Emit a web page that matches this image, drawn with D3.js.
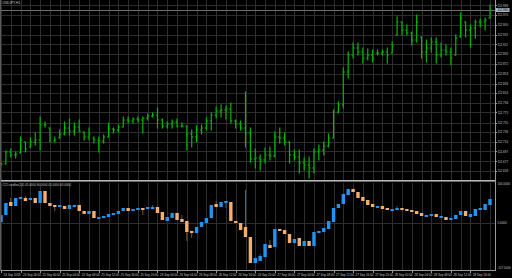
<!DOCTYPE html>
<html>
<head>
<meta charset="utf-8">
<script src="https://cdn.jsdelivr.net/npm/d3@7"></script>
<style>
  html, body { margin: 0; padding: 0; background: #000; }
  svg { display: block; }
  text { font-family: "Liberation Sans", "DejaVu Sans", sans-serif; }
</style>
</head>
<body>
<div id="chart"></div>
<script>
// Price bars (H1)
const barOpen = [112.672,112.672,112.696,112.690,112.694,112.716,112.706,112.716,112.720,112.750,112.744,112.718,112.724,112.732,112.744,112.738,112.746,112.736,112.726,112.724,112.720,112.718,112.726,112.742,112.740,112.746,112.760,112.758,112.762,112.760,112.764,112.768,112.770,112.760,112.748,112.752,112.756,112.748,112.748,112.732,112.726,112.740,112.744,112.758,112.770,112.778,112.780,112.782,112.758,112.752,112.744,112.734,112.682,112.684,112.680,112.690,112.688,112.726,112.724,112.716,112.690,112.686,112.674,112.670,112.664,112.696,112.700,112.708,112.724,112.776,112.790,112.856,112.890,112.904,112.896,112.884,112.890,112.894,112.894,112.896,112.894,112.930,112.956,112.940,112.934,112.920,112.926,112.896,112.904,112.916,112.890,112.900,112.896,112.890,112.926,112.956,112.940,112.944,112.956,112.956,112.964];
const barHigh = [112.674,112.698,112.702,112.696,112.726,112.716,112.724,112.734,112.766,112.756,112.744,112.726,112.740,112.756,112.762,112.754,112.760,112.736,112.744,112.726,112.726,112.730,112.754,112.744,112.750,112.766,112.766,112.764,112.766,112.766,112.772,112.774,112.784,112.762,112.756,112.760,112.762,112.754,112.748,112.740,112.748,112.750,112.764,112.774,112.786,112.790,112.788,112.794,112.760,112.758,112.816,112.744,112.702,112.690,112.704,112.706,112.736,112.744,112.734,112.716,112.700,112.700,112.684,112.686,112.702,112.710,112.716,112.732,112.780,112.796,112.864,112.896,112.914,112.914,112.904,112.902,112.900,112.900,112.900,112.904,112.916,112.966,112.956,112.950,112.936,112.970,112.926,112.920,112.924,112.924,112.914,112.910,112.904,112.930,112.974,112.956,112.950,112.960,112.962,112.964,112.990];
const barLow = [112.670,112.672,112.686,112.684,112.694,112.696,112.706,112.710,112.700,112.746,112.716,112.716,112.724,112.730,112.730,112.730,112.736,112.720,112.720,112.714,112.696,112.714,112.726,112.734,112.736,112.746,112.754,112.754,112.756,112.734,112.760,112.766,112.744,112.744,112.744,112.744,112.746,112.746,112.700,112.706,112.716,112.732,112.740,112.740,112.764,112.766,112.762,112.754,112.744,112.740,112.706,112.676,112.664,112.660,112.674,112.680,112.686,112.714,112.710,112.674,112.680,112.654,112.660,112.644,112.654,112.680,112.690,112.706,112.724,112.774,112.784,112.844,112.884,112.890,112.874,112.880,112.876,112.890,112.890,112.874,112.894,112.930,112.930,112.930,112.910,112.916,112.884,112.876,112.896,112.874,112.886,112.890,112.870,112.890,112.926,112.926,112.906,112.924,112.946,112.940,112.964];
const barClose = [112.672,112.696,112.690,112.692,112.720,112.702,112.716,112.720,112.750,112.750,112.718,112.720,112.732,112.744,112.738,112.746,112.738,112.726,112.732,112.720,112.718,112.726,112.742,112.740,112.746,112.760,112.758,112.762,112.760,112.764,112.768,112.770,112.760,112.748,112.752,112.756,112.748,112.748,112.732,112.726,112.740,112.744,112.758,112.770,112.778,112.780,112.782,112.758,112.752,112.744,112.734,112.682,112.684,112.680,112.690,112.688,112.726,112.724,112.716,112.690,112.686,112.674,112.670,112.664,112.696,112.700,112.708,112.724,112.776,112.790,112.856,112.890,112.904,112.896,112.884,112.890,112.884,112.894,112.896,112.890,112.908,112.956,112.940,112.934,112.920,112.956,112.896,112.904,112.916,112.890,112.900,112.896,112.884,112.924,112.964,112.940,112.944,112.956,112.956,112.960,112.980];

// Oscillator candles in the lower window
const indOpen = [2.5,20,52.5,42.5,60,62.5,57.5,62.5,50,80,50,45,40,42.5,35,40,45,30,22.5,30,10,12.5,15,20,22.5,30,37.5,30,32.5,37.5,35,35,40,27.5,5,12.5,25,10,5,-20,-25,-10,0,12.5,47.5,40,50,52.5,5,0,-10,-35,-100,-95,-85,-55,-60,-15,-17.5,-27.5,-50,-37.5,-57.5,-45,-57.5,-25,-22.5,-15,2.5,37.5,47.5,70,85,77.5,65,57.5,47.5,37.5,42.5,37.5,30,32.5,37.5,35,32.5,30,25,15,17.5,22.5,12.5,15,7.5,10,20,30,15,17.5,32.5,32.5,45];
const indClose = [20,50,42.5,62.5,65,55,62.5,50,80,50,42.5,40,45,35,45,45,30,22.5,30,12.5,15,17.5,22.5,25,30,37.5,30,35,37.5,32.5,40,40,25,7.5,15,25,7.5,2.5,-22.5,-25,-10,2.5,12.5,45,40,52.5,55,5,0,-17.5,-35,-100,-87.5,-82.5,-52.5,-62.5,-15,-20,-27.5,-50,-40,-57.5,-45,-57.5,-22.5,-20,-12.5,5,37.5,47.5,72.5,85,77.5,62.5,55,45,40,42.5,35,32.5,35,37.5,32.5,30,27.5,22.5,17.5,20,22.5,15,17.5,7.5,12.5,20,30,17.5,22.5,35,37.5,47.5,60];
const indHigh = [20,50,62.5,62.5,65,67.5,62.5,62.5,80,80,50,45,45,42.5,45,45,45,30,30,30,15,17.5,22.5,25,30,37.5,37.5,35,37.5,37.5,40,45,40,27.5,15,25,25,20,5,-20,-10,2.5,12.5,45,55,52.5,55,52.5,5,0,82.5,-35,-87.5,-77.5,-52.5,-42.5,-15,-15,-17.5,-27.5,-40,-37.5,-45,-45,-22.5,-20,-12.5,5,37.5,47.5,72.5,85,85,77.5,65,57.5,47.5,42.5,42.5,37.5,35,42.5,37.5,35,32.5,30,25,20,22.5,22.5,17.5,15,12.5,20,30,30,22.5,35,37.5,47.5,60];
const indLow = [2.5,20,42.5,42.5,60,55,57.5,50,50,50,42.5,30,40,35,35,40,30,22.5,22.5,12.5,10,12.5,15,20,22.5,30,30,30,32.5,20,35,35,25,7.5,5,12.5,7.5,2.5,-45,-37.5,-25,-10,0,12.5,40,40,37.5,5,0,-17.5,-35,-100,-100,-95,-85,-62.5,-60,-20,-27.5,-50,-50,-57.5,-57.5,-57.5,-57.5,-25,-22.5,-15,2.5,37.5,47.5,70,77.5,62.5,55,45,40,37.5,35,32.5,30,32.5,32.5,30,27.5,22.5,17.5,15,17.5,15,12.5,7.5,7.5,10,20,17.5,15,17.5,32.5,32.5,45];

// Axis labels
const priceTicks = [112.989,112.970,112.950,112.931,112.911,112.892,112.872,112.853,112.833,112.814,112.794,112.775,112.755,112.736,112.716,112.697,112.677,112.658];
const indTicks = [100, 0, -117.5];
const timeLabels = ["24 Sep 2018","24 Sep 20:00","25 Sep 00:00","25 Sep 04:00","25 Sep 08:00","25 Sep 12:00","25 Sep 16:00","25 Sep 20:00","26 Sep 00:00","26 Sep 04:00","26 Sep 08:00","26 Sep 12:00","26 Sep 16:00","26 Sep 20:00","27 Sep 00:00","27 Sep 04:00","27 Sep 08:00","27 Sep 12:00","27 Sep 16:00","27 Sep 20:00","28 Sep 00:00","28 Sep 04:00","28 Sep 08:00","28 Sep 12:00","28 Sep 16:00"];
const labelEvery = 4;

const width = 512, height = 278;
const plotRight = 495;
const mainPane = {top: 0, bottom: 180};
const indPane = {top: 183, bottom: 270};

const svg = d3.select('#chart')
    .append('svg')
    .attr('width', width)
    .attr('height', height);

svg.append('rect')
    .attr('width', width)
    .attr('height', height)
    .attr('fill', '#000');

// scales
const xScale = d3.scaleLinear()
    .domain([0, barClose.length - 1])
    .range([1, 490]);

const yPrice = d3.scaleLinear()
    .domain([113.000, 112.640])
    .range([mainPane.top, mainPane.bottom]);

const yInd = d3.scaleLinear()
    .domain([-117.5, 100])
    .range([indPane.bottom, indPane.top]);

const gridColor = '#2e2e2e';
const idx = d3.range(barClose.length);

// vertical grid, both panes
const grid = svg.append('g');
idx.filter(i => i % 2 === 0).forEach(i => {
    [[mainPane.top, mainPane.bottom], [indPane.top, indPane.bottom]].forEach(p => {
        grid.append('line')
            .attr('x1', Math.round(xScale(i)) + 0.5)
            .attr('x2', Math.round(xScale(i)) + 0.5)
            .attr('y1', p[0])
            .attr('y2', p[1])
            .attr('stroke', gridColor)
            .attr('stroke-width', 1);
    });
});

// horizontal grid
priceTicks.forEach(t => {
    grid.append('line')
        .attr('x1', 0).attr('x2', plotRight)
        .attr('y1', Math.round(yPrice(t)) + 0.5)
        .attr('y2', Math.round(yPrice(t)) + 0.5)
        .attr('stroke', gridColor);
});
grid.append('line')
    .attr('x1', 0).attr('x2', plotRight)
    .attr('y1', Math.round(yInd(0)) + 0.5)
    .attr('y2', Math.round(yInd(0)) + 0.5)
    .attr('stroke', gridColor);

// bid line
const last = barClose[barClose.length - 1];
svg.append('line')
    .attr('x1', 0).attr('x2', plotRight)
    .attr('y1', Math.round(yPrice(last)) + 0.5)
    .attr('y2', Math.round(yPrice(last)) + 0.5)
    .attr('stroke', '#6e6e6e');

// OHLC bars
const barColor = '#00b800';
const bars = svg.append('g');
idx.forEach(i => {
    const x = xScale(i);
    bars.append('line')
        .attr('x1', x).attr('x2', x)
        .attr('y1', yPrice(barHigh[i]) - 0.5)
        .attr('y2', yPrice(barLow[i]) + 0.5)
        .attr('stroke', barColor)
        .attr('stroke-width', 1.2);
    bars.append('line')
        .attr('x1', x - 1.6).attr('x2', x)
        .attr('y1', yPrice(barOpen[i])).attr('y2', yPrice(barOpen[i]))
        .attr('stroke', barColor)
        .attr('stroke-width', 1);
    bars.append('line')
        .attr('x1', x).attr('x2', x + 1.6)
        .attr('y1', yPrice(barClose[i])).attr('y2', yPrice(barClose[i]))
        .attr('stroke', barColor)
        .attr('stroke-width', 1);
});

// oscillator candles
const upColor = '#2094f0', downColor = '#f5ae6c';
const candles = svg.append('g');
idx.forEach(i => {
    const x = xScale(i);
    const up = indClose[i] >= indOpen[i];
    const c = up ? upColor : downColor;
    candles.append('line')
        .attr('x1', x).attr('x2', x)
        .attr('y1', yInd(indHigh[i]))
        .attr('y2', yInd(indLow[i]))
        .attr('stroke', up ? '#1d6fb8' : '#9a6a3c')
        .attr('stroke-width', 0.8);
    const top = yInd(Math.max(indOpen[i], indClose[i]));
    const bot = yInd(Math.min(indOpen[i], indClose[i]));
    candles.append('rect')
        .attr('x', x - 1.7)
        .attr('y', top)
        .attr('width', 3.4)
        .attr('height', Math.max(1.2, bot - top))
        .attr('fill', c);
});

// window frames
const frameColor = '#9a9a9a';
svg.append('rect')
    .attr('x', 0).attr('y', 180)
    .attr('width', plotRight).attr('height', 1.6)
    .attr('fill', '#b4b4b4');
svg.append('line')
    .attr('x1', 0).attr('x2', plotRight + 0.5)
    .attr('y1', 270.5).attr('y2', 270.5)
    .attr('stroke', frameColor);
svg.append('line')
    .attr('x1', plotRight + 0.5).attr('x2', plotRight + 0.5)
    .attr('y1', 0).attr('y2', 271)
    .attr('stroke', frameColor);
svg.append('line')
    .attr('x1', 0.5).attr('x2', 0.5)
    .attr('y1', 0).attr('y2', 271)
    .attr('stroke', '#5a5a5a');

// right price axis
const textColor = '#c4c4c4';
const fontSize = 3;
priceTicks.forEach(t => {
    svg.append('line')
        .attr('x1', plotRight).attr('x2', plotRight + 2)
        .attr('y1', Math.round(yPrice(t)) + 0.5)
        .attr('y2', Math.round(yPrice(t)) + 0.5)
        .attr('stroke', frameColor);
    svg.append('text')
        .attr('x', plotRight + 2.5)
        .attr('y', yPrice(t) + 1)
        .attr('font-size', fontSize)
        .attr('fill', textColor)
        .text(t.toFixed(3));
});

// current price box
svg.append('rect')
    .attr('x', plotRight + 1).attr('y', yPrice(last) - 2)
    .attr('width', 13.5).attr('height', 4)
    .attr('fill', '#a9b3bd');
svg.append('text')
    .attr('x', plotRight + 2.5)
    .attr('y', yPrice(last) + 1)
    .attr('font-size', fontSize)
    .attr('fill', '#000')
    .text(last.toFixed(3));

// oscillator axis
indTicks.forEach(t => {
    svg.append('text')
        .attr('x', plotRight + 2.5)
        .attr('y', Math.min(268.5, Math.max(yInd(t) + 1, 185)))
        .attr('font-size', fontSize)
        .attr('fill', textColor)
        .text(t.toFixed(4));
});

// time axis
timeLabels.forEach((lab, j) => {
    const x = xScale(j * labelEvery);
    svg.append('line')
        .attr('x1', Math.round(x) + 0.5).attr('x2', Math.round(x) + 0.5)
        .attr('y1', 271).attr('y2', 273)
        .attr('stroke', frameColor);
    svg.append('text')
        .attr('x', x + 2.5)
        .attr('y', 275.5)
        .attr('font-size', fontSize)
        .attr('fill', textColor)
        .text(lab);
});

// window titles
svg.append('text')
    .attr('x', 2.5).attr('y', 4)
    .attr('font-size', 3.3)
    .attr('fill', textColor)
    .text('USDJPY,H1');

const n = indClose.length - 1;
svg.append('text')
    .attr('x', 2.5).attr('y', 185.5)
    .attr('font-size', fontSize)
    .attr('fill', textColor)
    .text('CCI candles(14) ' + [indOpen[n], indHigh[n], indLow[n], indClose[n]].map(v => v.toFixed(4)).join(' '));
</script>
</body>
</html>
